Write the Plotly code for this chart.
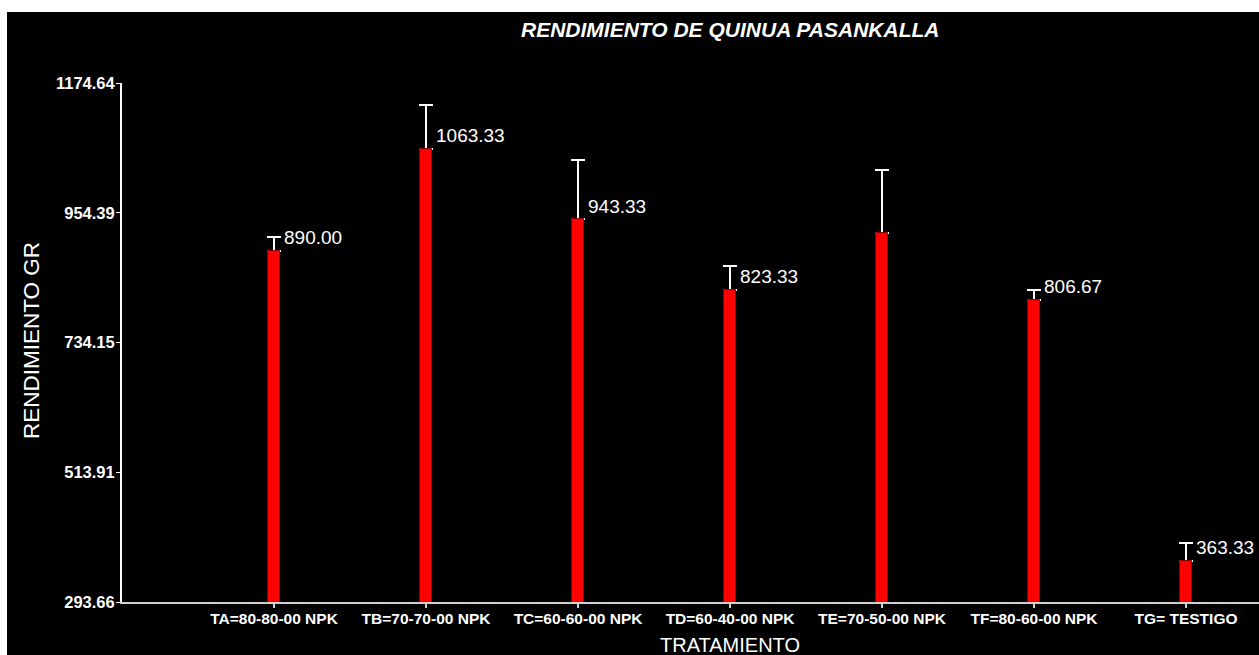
import plotly.graph_objects as go

categories = ["TA=80-80-00 NPK", "TB=70-70-00 NPK", "TC=60-60-00 NPK", "TD=60-40-00 NPK",
              "TE=70-50-00 NPK", "TF=80-60-00 NPK", "TG= TESTIGO"]
rendimiento = [890.00, 1063.33, 943.33, 823.33, 920.00, 806.67, 363.33]
error_sup = [24, 74, 100, 41, 107, 17, 31]
etiquetas = ["890.00", "1063.33", "943.33", "823.33", "", "806.67", "363.33"]
y_ticks = [293.66, 513.91, 734.15, 954.39, 1174.64]
y_tick_text = ["293.66", "513.91", "734.15", "954.39", "1174.64"]

W, H = 1259, 655
L, R, T, B = 122, 0, 83, 655 - 602
pw, ph = W - L - R, H - T - B

def px_x(p):  # screen pixel -> paper x
    return (p - L) / pw

def px_y(p):  # screen pixel -> paper y
    return (H - B - p) / ph

FONT = "Arial, Liberation Sans"

fig = go.Figure()
# error bars (drawn underneath the red bars so the lower shoe is hidden)
fig.add_trace(go.Bar(
    x=categories, y=rendimiento, width=0.079,
    marker=dict(color="rgba(0,0,0,0)", line=dict(width=0)),
    error_y=dict(type="data", symmetric=False, array=error_sup,
                 arrayminus=[0] * len(error_sup), color="white",
                 thickness=2, width=7),
    hoverinfo="skip", showlegend=False,
))
fig.add_trace(go.Bar(
    x=categories, y=rendimiento, width=0.079,
    marker=dict(color="#ff0000", line=dict(color="#8b0000", width=1)),
    showlegend=False,
))

for c, v, t in zip(categories, rendimiento, etiquetas):
    if t:
        fig.add_annotation(x=c, y=v, text=t, showarrow=False, xanchor="left",
                           yanchor="middle", xshift=8, yshift=13,
                           font=dict(family=FONT, size=19, color="white"))

fig.add_annotation(xref="paper", yref="paper", x=px_x(730), y=px_y(30),
                   text="<b><i>RENDIMIENTO DE QUINUA PASANKALLA</i></b>", showarrow=False,
                   xanchor="center", yanchor="middle",
                   font=dict(family=FONT, size=21, color="white"))
fig.add_annotation(xref="paper", yref="paper", x=px_x(730), y=px_y(645),
                   text="TRATAMIENTO", showarrow=False, xanchor="center", yanchor="middle",
                   font=dict(family=FONT, size=20, color="white"))
fig.add_annotation(xref="paper", yref="paper", x=px_x(31), y=px_y(341),
                   text="RENDIMIENTO GR", showarrow=False, textangle=-90,
                   xanchor="center", yanchor="middle",
                   font=dict(family=FONT, size=22.5, color="white"))

# white strips at the top and left (reference black area starts at x=7, y=12)
fig.add_shape(type="rect", xref="paper", yref="paper", x0=px_x(-10), x1=px_x(1300),
              y0=px_y(12), y1=px_y(-10),
              fillcolor="white", line=dict(width=0), layer="above")
fig.add_shape(type="rect", xref="paper", yref="paper", x0=px_x(-10), x1=px_x(7),
              y0=px_y(700), y1=px_y(-10),
              fillcolor="white", line=dict(width=0), layer="above")

fig.update_layout(
    width=W, height=H, margin=dict(l=L, r=R, t=T, b=B),
    paper_bgcolor="black", plot_bgcolor="black",
    barmode="overlay", bargap=0,
    xaxis=dict(type="category", range=[-1, 6.48], showgrid=False, zeroline=False,
               showline=True, linecolor="#d0d0d0", linewidth=2,
               ticks="outside", ticklen=4, tickwidth=2, tickcolor="#d0d0d0",
               ticklabelstandoff=-3,
               tickfont=dict(family=FONT, size=15.5, color="white"),
               tickprefix="<b>", ticksuffix="</b>"),
    yaxis=dict(range=[293.66, 1174.64], tickvals=y_ticks, ticktext=[f"<b>{t}</b>" for t in y_tick_text],
               showgrid=False, zeroline=False, showline=True, linecolor="white", linewidth=2,
               ticks="outside", ticklen=4, tickwidth=1, tickcolor="white",
               ticklabelstandoff=-2,
               tickfont=dict(family=FONT, size=16.5, color="white")),
)

fig.write_html("out.html", config={"displayModeBar": False},
               post_script="document.body.style.margin='0';document.body.style.overflow='hidden';")
